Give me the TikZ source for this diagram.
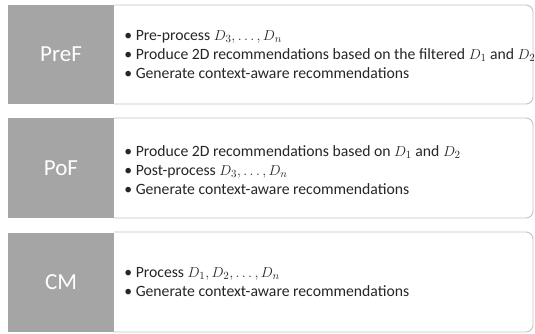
\documentclass[tikz,border=0pt]{standalone}
\usepackage{fontspec}
\setmainfont{Carlito}
\usetikzlibrary{positioning}
\definecolor{boxgray}{HTML}{A5A5A5}
\definecolor{edgegray}{HTML}{C4C4C4}
\definecolor{itemtext}{HTML}{262626}
\begin{document}
\begin{tikzpicture}[x=1pt, y=-1pt, line join=round,
    graybox/.style={fill=boxgray, minimum width=106pt, minimum height=99pt, inner sep=0pt, text=white, font=\fontsize{23}{27}\selectfont},
    itembox/.style={align=left, inner sep=0pt, text=itemtext, font=\fontsize{15.7}{19.2}\selectfont},
    outline/.style={draw=edgegray, line width=0.9pt, rounded corners=7pt}]
\clip (0,0) rectangle (535,334);
\fill[white] (0,0) rectangle (535,334);
\draw[outline] (114,5) -- (533,5) -- (533,104) -- (114,104);
\draw[outline] (114,118) -- (533,118) -- (533,218) -- (114,218);
\draw[outline] (114,232) -- (533,232) -- (533,332) -- (114,332);
\node[graybox] (pref) at (61,54.5) {PreF};
\node[graybox] (pof) at (61,168) {PoF};
\node[graybox] (cm) at (61,282) {CM};
\node[itembox, right=10pt of pref] (preflist) {%
  \textbullet\ Pre-process $D_3, \ldots, D_n$\\
  \textbullet\ Produce 2D recommendations based on the filtered $D_1$ and $D_2$\\
  \textbullet\ Generate context-aware recommendations};
\node[itembox, right=10pt of pof, yshift=-2pt] (poflist) {%
  \textbullet\ Produce 2D recommendations based on $D_1$ and $D_2$\\
  \textbullet\ Post-process $D_3, \ldots, D_n$\\
  \textbullet\ Generate context-aware recommendations};
\node[itembox, right=10pt of cm] (cmlist) {%
  \textbullet\ Process $D_1, D_2, \ldots, D_n$\\
  \textbullet\ Generate context-aware recommendations};
\end{tikzpicture}
\end{document}
